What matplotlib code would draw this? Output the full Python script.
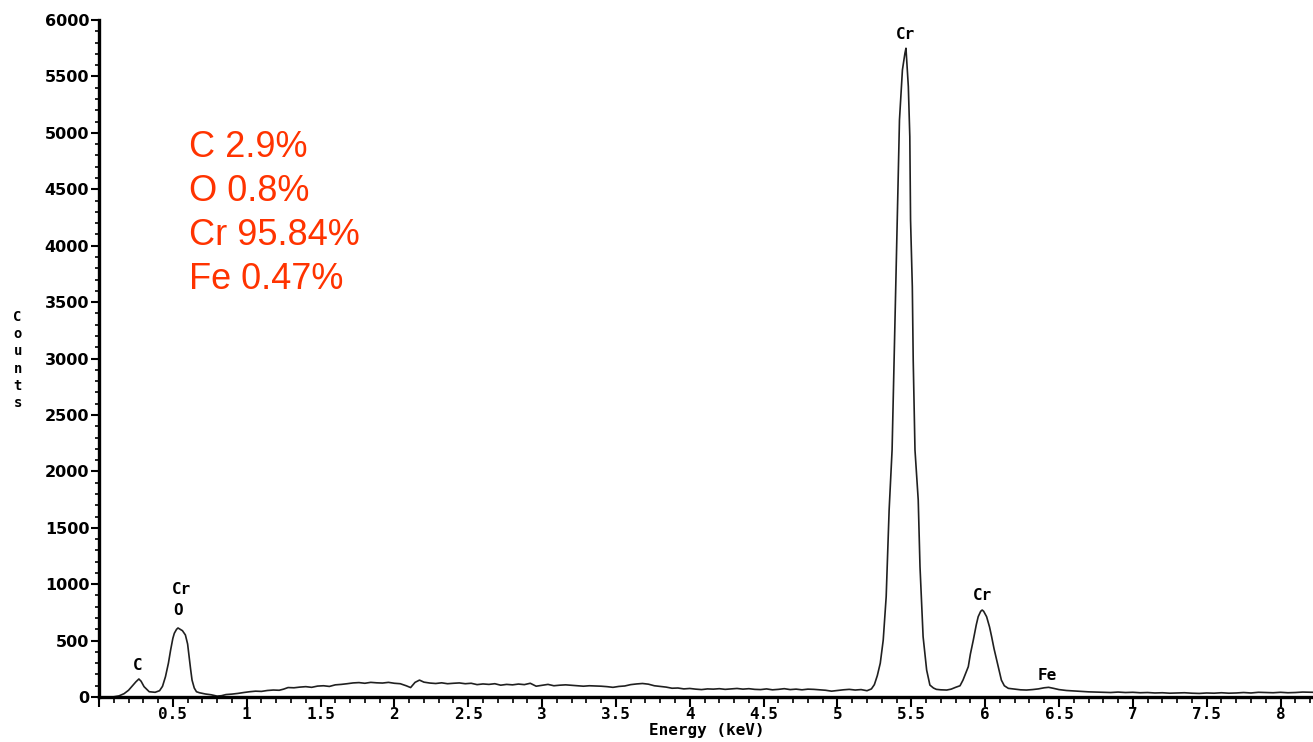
import numpy as np
import matplotlib.pyplot as plt
from matplotlib.ticker import MultipleLocator

# EDS spectrum (energy in keV, counts)
energy_kev = [
    0.00, 0.05, 0.10, 0.135, 0.17, 0.20, 0.23, 0.25, 0.27, 0.285, 0.305, 0.34, 0.38,
    0.41, 0.43, 0.45, 0.47, 0.485, 0.50, 0.51, 0.525, 0.535, 0.55, 0.565, 0.585,
    0.60, 0.61, 0.62, 0.63, 0.645, 0.66, 0.68, 0.72, 0.76, 0.80, 0.83, 0.86, 0.90,
    0.94, 0.98, 1.02, 1.06, 1.10, 1.14, 1.18, 1.22, 1.25, 1.28, 1.32, 1.36, 1.40,
    1.44, 1.48, 1.52, 1.56, 1.60, 1.64, 1.68, 1.72, 1.76, 1.80, 1.84, 1.88, 1.92,
    1.96, 2.00, 2.04, 2.08, 2.11, 2.14, 2.17, 2.20, 2.24, 2.28, 2.32, 2.36, 2.40,
    2.44, 2.48, 2.52, 2.56, 2.60, 2.64, 2.68, 2.72, 2.76, 2.80, 2.84, 2.88, 2.92,
    2.96, 3.00, 3.04, 3.08, 3.12, 3.16, 3.20, 3.24, 3.28, 3.32, 3.36, 3.40, 3.44,
    3.48, 3.52, 3.56, 3.60, 3.64, 3.68, 3.72, 3.76, 3.80, 3.84, 3.88, 3.92, 3.96,
    4.00, 4.04, 4.08, 4.12, 4.16, 4.20, 4.24, 4.28, 4.32, 4.36, 4.40, 4.44, 4.48,
    4.52, 4.56, 4.60, 4.64, 4.68, 4.72, 4.76, 4.80, 4.84, 4.88, 4.92, 4.96, 5.00,
    5.04, 5.08, 5.12, 5.16, 5.20, 5.23, 5.25, 5.27, 5.29, 5.31, 5.33, 5.35, 5.37,
    5.38, 5.39, 5.40, 5.41, 5.42, 5.44, 5.457, 5.464, 5.48, 5.49, 5.495, 5.507,
    5.513, 5.525, 5.547, 5.559, 5.58, 5.604, 5.626, 5.65, 5.67, 5.70, 5.74, 5.77,
    5.80, 5.83, 5.85, 5.87, 5.886, 5.90, 5.92, 5.94, 5.953, 5.97, 5.98, 5.99, 6.01,
    6.03, 6.044, 6.06, 6.078, 6.095, 6.11, 6.13, 6.157, 6.20, 6.24, 6.28, 6.32,
    6.36, 6.40, 6.43, 6.46, 6.50, 6.55, 6.60, 6.65, 6.70, 6.75, 6.80, 6.85, 6.90,
    6.95, 7.00, 7.05, 7.10, 7.15, 7.20, 7.25, 7.30, 7.35, 7.40, 7.45, 7.50, 7.55,
    7.60, 7.65, 7.70, 7.75, 7.80, 7.85, 7.90, 7.95, 8.00, 8.05, 8.10, 8.15, 8.22,
]
counts = [
    0, 0, 2, 10, 30, 60, 105, 135, 160, 140, 92, 47, 42,
    56, 95, 180, 300, 417, 520, 565, 600, 612, 600, 588, 550,
    470, 357, 250, 150, 80, 47, 38, 27, 20, 8, 12, 22, 26,
    32, 40, 47, 52, 50, 58, 62, 60, 70, 84, 82, 88, 92,
    86, 97, 100, 94, 108, 112, 118, 125, 128, 122, 130, 126, 124,
    130, 122, 118, 100, 84, 130, 150, 132, 124, 120, 126, 118, 122,
    125, 118, 122, 110, 116, 112, 118, 105, 112, 108, 115, 110, 122,
    96, 104, 112, 100, 105, 108, 104, 100, 96, 100, 98, 96, 92,
    86, 94, 98, 110, 116, 120, 114, 100, 94, 88, 78, 80, 72,
    76, 70, 66, 72, 70, 74, 68, 72, 76, 70, 74, 68, 66,
    72, 64, 68, 74, 66, 70, 64, 70, 68, 64, 60, 52, 58,
    64, 68, 62, 66, 56, 72, 110, 190, 300, 505, 889, 1658, 2190,
    2784, 3350, 3936, 4524, 5115, 5558, 5706, 5750, 5410, 4967, 4229, 3637,
    2988, 2190, 1746, 1155, 535, 239, 106, 80, 68, 64, 62, 70,
    86, 100, 150, 215, 269, 380, 505, 640, 712, 760, 771, 760, 712,
    620, 535, 430, 328, 230, 150, 100, 77, 70, 64, 62, 66,
    72, 82, 86, 78, 66, 58, 54, 50, 46, 44, 42, 40, 44,
    40, 42, 38, 40, 36, 38, 34, 36, 38, 34, 32, 36, 34,
    38, 34, 36, 40, 36, 42, 40, 38, 42, 38, 40, 44, 42,
]

composition = ["C 2.9%", "O 0.8%", "Cr 95.84%", "Fe 0.47%"]

peak_labels = ["C", "O", "Cr", "Cr", "Cr", "Fe"]
peak_x = [0.26, 0.535, 0.56, 5.46, 5.985, 6.42]
peak_y = [280, 770, 950, 5870, 900, 190]

mono = "DejaVu Sans Mono"

fig = plt.figure(figsize=(13.13, 7.42), dpi=100)
ax = fig.add_axes([0.0754, 0.0606, 0.9246, 0.9124])

ax.plot(energy_kev, counts, color="#202020", lw=1.2)

ax.set_xlim(0, 8.22)
ax.set_ylim(0, 6000)

for s in ["top", "right"]:
    ax.spines[s].set_visible(False)
for s in ["left", "bottom"]:
    ax.spines[s].set_linewidth(2.4)

xt = np.arange(0, 8.01, 0.5)
ax.set_xticks(xt)
ax.set_xticklabels([""] + ["%g" % v for v in xt[1:]], family=mono,
                   fontweight="bold", fontsize=11.5)
ax.xaxis.set_minor_locator(MultipleLocator(0.1))
ax.set_yticks(np.arange(0, 6001, 500))
ax.set_yticklabels([str(v) for v in range(0, 6001, 500)],
                   family="DejaVu Sans", fontweight="bold", fontsize=11.5)
ax.yaxis.set_minor_locator(MultipleLocator(100))
ax.tick_params(axis="x", which="major", length=7, width=1.5, pad=0)
ax.tick_params(axis="x", which="minor", length=4, width=1.2)
ax.tick_params(axis="y", which="major", length=6, width=1.5, pad=1)
ax.tick_params(axis="y", which="minor", length=3, width=1.2)

ax.set_xlabel("Energy (keV)", family=mono, fontweight="bold", fontsize=11.5,
              labelpad=0)
ax.xaxis.set_label_coords(0.501, -0.039)
ax.text(-0.067, 0.498, "\n".join("Counts"), transform=ax.transAxes,
        family=mono, fontweight="bold", fontsize=10, ha="center",
        va="center", linespacing=1.3)

for lab, x, y in zip(peak_labels, peak_x, peak_y):
    ax.text(x, y, lab, family=mono, fontweight="bold", fontsize=11.5,
            ha="center", va="center")

ax.text(0.0745, 0.838, "\n".join(composition), transform=ax.transAxes,
        color="#ff3300", family="Liberation Sans", fontsize=26,
        ha="left", va="top", linespacing=1.34)

fig.savefig("out.png", dpi=100)
